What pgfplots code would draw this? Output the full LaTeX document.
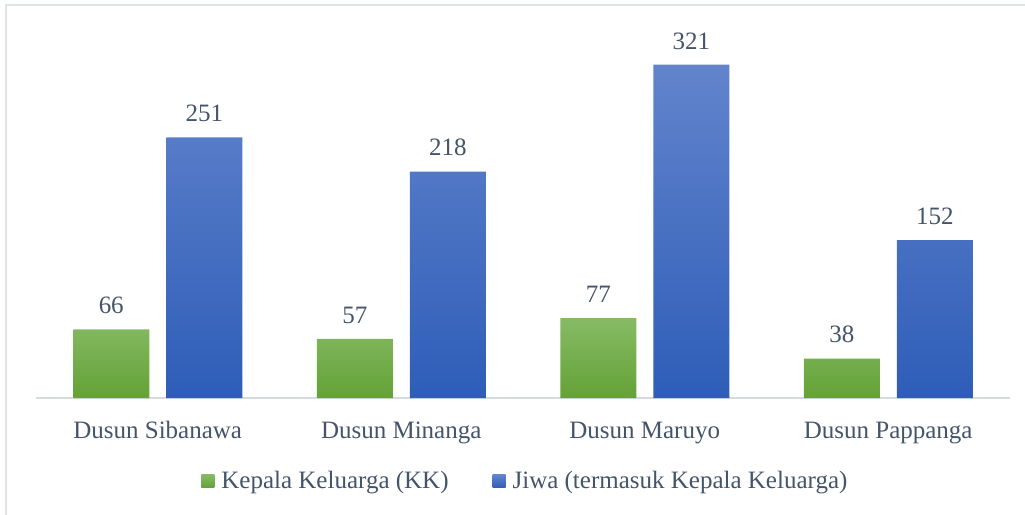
\documentclass[border=0pt]{standalone}
\usepackage{pgfplots}
\pgfplotsset{compat=1.18}
\usepackage{fontspec}
\setmainfont{Liberation Serif}
\definecolor{txt}{RGB}{68,84,106}
\definecolor{framec}{RGB}{222,226,233}
\definecolor{axc}{RGB}{214,219,226}
\definecolor{gtop}{RGB}{134,187,100}
\definecolor{gbot}{RGB}{100,162,54}
\definecolor{btop}{RGB}{98,132,204}
\definecolor{bbot}{RGB}{46,93,184}
\newcommand{\fs}{\fontsize{12.5}{15}\selectfont}
\begin{document}
\begin{tikzpicture}[x=1pt,y=1pt]
\useasboundingbox (0,0) rectangle (512.5,257.5);
\draw[framec, line width=0.8pt] (3,-5) -- (3,255) -- (520,255);
\begin{axis}[
  at={(18pt,58.5pt)}, anchor=south west,
  scale only axis, width=487pt, height=189pt,
  xmin=-0.5, xmax=3.5, ymin=0, ymax=364,
  enlarge x limits=false,
  /pgf/number format/assume math mode=true,
  ybar=8.5pt, bar width=38pt,
  axis x line=bottom,
  x axis line style={draw=axc, line width=0.6pt, -},
  hide y axis,
  xtick={0,1,2,3},
  xticklabels={Dusun Sibanawa, Dusun Minanga, Dusun Maruyo, Dusun Pappanga},
  major tick length=0pt,
  xtick style={draw=none},
  xticklabel style={font=\fs, text=txt, anchor=base, inner sep=0pt, yshift=-20pt},
  nodes near coords,
  every node near coord/.append style={font=\fs, text=txt, anchor=south, inner sep=0pt, yshift=7.5pt},
  legend columns=2,
  legend style={draw=none, fill=none, at={(axis description cs:0.5035,-0.22)}, anchor=center,
    font=\fs, text=txt, /tikz/every even column/.append style={column sep=20pt}},
  legend image code/.code={\path[#1, draw=none] (0pt,-3.25pt) rectangle (6.5pt,3.25pt); \path (8pt,0pt);},
  clip=false,
]
\addplot[draw=none, top color=gtop, bottom color=gbot] coordinates {(0,66) (1,57) (2,77) (3,38)};
\addplot[draw=none, top color=btop, bottom color=bbot] coordinates {(0,251) (1,218) (2,321) (3,152)};
\legend{Kepala Keluarga (KK), Jiwa (termasuk Kepala Keluarga)}
\end{axis}
\end{tikzpicture}
\end{document}
